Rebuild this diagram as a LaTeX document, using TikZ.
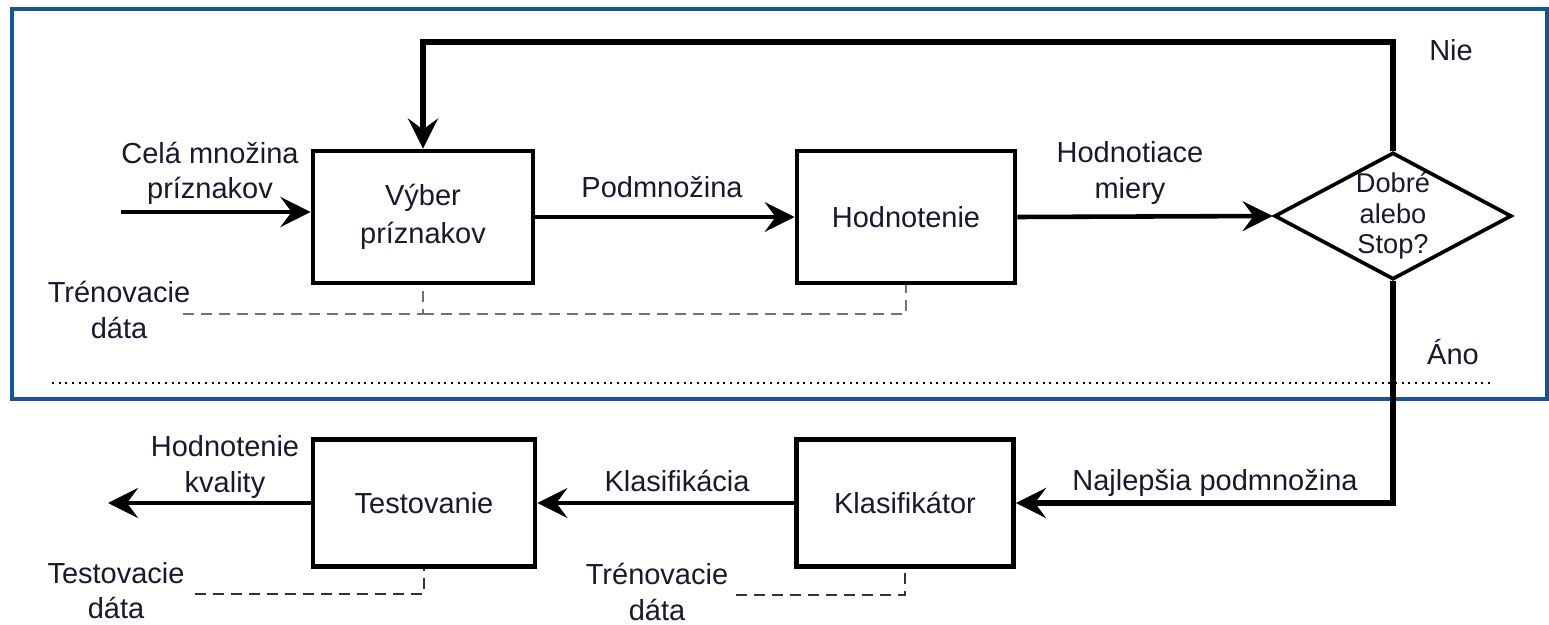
\documentclass[tikz,border=0pt]{standalone}
\usepackage{fontspec}
\setmainfont{Liberation Sans}
\usetikzlibrary{arrows.meta,shapes.geometric}

\definecolor{ramec}{RGB}{22,84,150}
\definecolor{pismo}{RGB}{25,25,45}

\tikzset{
  blok/.style={draw,line width=2.8pt,inner sep=0pt,align=center,text=pismo,
    font=\fontsize{16.5}{21.5}\selectfont},
  rozhod/.style={draw,diamond,line width=2.1pt,inner sep=0pt,aspect=1.87,
    minimum width=4.74cm,minimum height=2.54cm,align=center,text=pismo,
    font=\fontsize{15.5}{17.5}\selectfont},
  popis/.style={inner sep=0pt,align=center,text=pismo,
    font=\fontsize{16.5}{20}\selectfont},
  sipka/.style={-{Stealth[length=0.6cm,width=0.6cm,inset=0.22cm]},line width=2.6pt},
  trasa/.style={line width=0.9pt,dash pattern=on 0.22cm off 0.14cm},
  bodky/.style={line width=0.05cm,dash pattern=on 0.04cm off 0.093cm},
}

\begin{document}
\begin{tikzpicture}[x=0.02cm,y=-0.02cm]
        \useasboundingbox (0,0) rectangle (1549,625);
        % Ramec
        \draw[ramec,line width=0.08cm] (12,9) rectangle (1547,399);

        % Bloky
        \node[blok,minimum width=4.4cm,minimum height=2.64cm] (vyber) at (423,217) {Výber\\príznakov};
        \node[blok,minimum width=4.36cm,minimum height=2.64cm] (hodnot) at (906,217) {Hodnotenie};
        \node[rozhod] (rozh) at (1393,216) {Dobré\\alebo\\Stop?};
        \node[blok,minimum width=4.34cm,minimum height=2.54cm] (klasif) at (905,503) {Klasifikátor};
        \node[blok,minimum width=4.44cm,minimum height=2.54cm] (test) at (424,503) {Testovanie};

        % Popisy
        \node[popis] (celaMn) at (210,173) {Celá množina\\príznakov};
        \node[popis] (podmn) at (662,187) {Podmnožina};
        \node[popis] (hodnMi) at (1130,173) {Hodnotiace\\miery};
        \node[popis] (nie) at (1451,50) {Nie};
        \node[popis] (ano) at (1453,352) {Áno};
        \node[popis] (trenH) at (119,310) {Trénovacie\\dáta};
        \node[popis] (hodnKv) at (225,467) {Hodnotenie\\kvality};
        \node[popis] (klasLbl) at (677,481) {Klasifikácia};
        \node[popis] (najl) at (1215,483) {Najlepšia podmnožina};
        \node[popis] (testD) at (116,591) {Testovacie\\dáta};
        \node[popis] (trenD) at (657,592) {Trénovacie\\dáta};

        % Sipky
        \coordinate (vstup) at (121,212);
        \coordinate (slucka) at (1393,42);
        \coordinate (vystup) at (108,503);
        \draw[sipka] (vstup) -- (vstup -| vyber.west);
        \draw[sipka,line width=2pt] (vyber.east) -- (hodnot.west);
        \draw[sipka] (hodnot.east) -- (rozh.west);
        \draw[sipka,line width=3.6pt] (rozh.north) -- (slucka) -| (vyber.north);
        \draw[sipka,line width=3pt] (rozh.south) |- (klasif.east);
        \draw[sipka,line width=2pt] (klasif.west) -- (test.east);
        \draw[sipka] (test.west) -- (vystup);

        % Data
        \coordinate (trenHk) at (183,314);
        \coordinate (testDk) at (195,594);
        \coordinate (trenDk) at (736,595);
        \draw[trasa,black!55] (trenHk) -- (trenHk -| vyber.south) -- (vyber.south);
        \draw[trasa,black!55] (trenHk -| vyber.south) -- (trenHk -| hodnot.south) -- (hodnot.south);
        \draw[trasa,black!80] (testDk) -- (testDk -| test.south) -- (test.south);
        \draw[trasa,black!80] (trenDk) -- (trenDk -| klasif.south) -- (klasif.south);

        % Oddelovac
        \coordinate (oddL) at (52,383);
        \coordinate (oddP) at (1490,383);
        \draw[bodky] (oddL) -- (oddP);
    \end{tikzpicture}
\end{document}
